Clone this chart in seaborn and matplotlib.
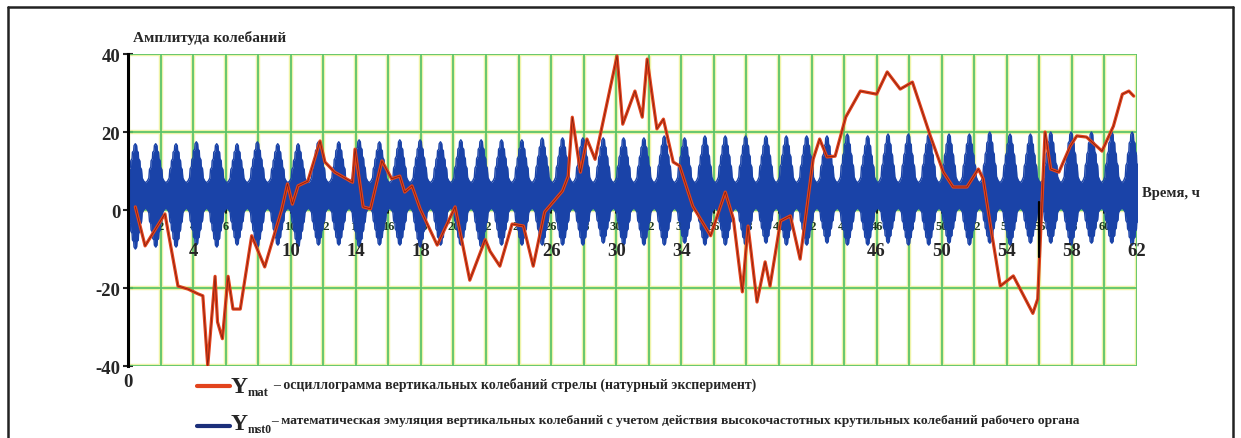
import numpy as np
import pandas as pd
import seaborn as sns
import matplotlib.pyplot as plt
from matplotlib.lines import Line2D

# red curve: field oscillogram
red_t = [0.45, 1.05, 2.27, 2.58, 3.07, 3.7, 4.3, 4.6, 4.9, 5.35, 5.5, 5.8, 6.15, 6.45, 6.9,
         7.6, 8.4, 9.45, 9.8, 10.1, 10.45, 11.05, 11.8, 12.1, 12.7, 13.8, 13.95, 14.45, 14.9,
         15.6, 16.2, 16.7, 17.0, 17.45, 17.95, 19.0, 20.1, 21.0, 21.95, 22.25, 22.85, 23.6,
         24.3, 24.9, 25.6, 26.7, 27.05, 27.3, 27.8, 28.2, 28.7, 30.05, 30.4, 31.15, 31.6,
         31.9, 32.3, 32.5, 32.9, 33.5, 33.9, 34.7, 35.8, 36.7, 37.2, 37.75, 38.1, 38.65,
         39.15, 39.45, 40.1, 40.7, 41.3, 42.1, 42.5, 42.95, 43.45, 44.1, 45.0, 46.0, 46.65,
         47.45, 48.2, 49.3, 50.1, 50.7, 51.55, 52.25, 52.55, 53.0, 53.6, 54.4, 55.6, 55.9,
         56.35, 56.7, 57.2, 57.9, 58.3, 58.9, 59.85, 60.55, 61.1, 61.5, 61.8]
red_y = [0.8, -9.2, -1.0, -8.2, -19.5, -20.3, -21.5, -22.0, -40.0, -17.0, -28.7, -33.0, -17.0,
         -25.4, -25.4, -6.6, -14.6, 0.2, 6.7, 1.5, 6.2, 7.4, 17.7, 12.3, 9.7, 7.1, 15.6, 0.8,
         0.3, 12.6, 8.0, 8.7, 4.6, 6.2, 0.3, -9.0, 0.8, -18.0, -7.6, -10.6, -14.4, -3.6, -4.1,
         -14.4, -0.5, 4.9, 8.7, 23.8, 9.7, 18.2, 13.0, 39.5, 22.0, 30.5, 23.8, 38.7, 26.7,
         20.8, 23.3, 12.3, 11.3, 1.0, -6.6, 4.6, -2.3, -21.0, -4.1, -23.6, -13.3, -19.5, -2.8,
         -1.5, -12.6, 13.0, 18.2, 13.6, 13.8, 23.8, 30.5, 29.7, 35.4, 31.0, 32.8, 19.0, 9.7,
         5.9, 5.9, 10.5, 8.0, -4.1, -19.5, -16.9, -26.5, -22.8, 20.0, 10.5, 9.7, 16.4, 19.0,
         18.7, 15.1, 21.5, 29.7, 30.5, 29.2]

# blue curve: emulated signal, drawn as its envelope (bursts every ~1.25 h)
burst_start = 0.45
burst_period = 1.25
blue_top = [17, 17, 17, 17.5, 17, 17, 17.5, 17, 17, 17.5,
            17.5, 18, 17.5, 18, 18, 17.5, 18, 18, 18, 18,
            18.5, 18.5, 18.5, 18.5, 18.5, 18.5, 19, 18.5, 19, 19,
            19, 19, 19, 19, 19, 19.5, 19, 19.5, 19.5, 19.5,
            19.5, 19.5, 20, 19.5, 19.5, 20, 20, 20, 20, 20]
blue_bot = [-10, -9.5, -9.5, -9, -9.5, -9, -9.5, -9, -9.5, -9,
            -9, -9.5, -9, -9, -9.5, -9, -9, -9.5, -9, -9,
            -9, -9, -9, -8.5, -9, -9, -9, -8.5, -9, -9,
            -9, -8.5, -9, -9, -8.5, -9, -9, -8.5, -9, -9,
            -8.5, -9, -8.5, -9, -8.5, -8.5, -9, -8.5, -8.5, -9]
calm_top = 7.0
calm_bot = 0.5
# stepped "christmas tree" burst profile: offset from burst peak, share of burst height
prof_d = [-0.625, -0.52, -0.42, -0.38, -0.3, -0.28, -0.2, -0.18, -0.1, -0.08, 0.0,
          0.08, 0.1, 0.18, 0.2, 0.28, 0.3, 0.38, 0.42, 0.52]
prof_f = [0, 0.04, 0.12, 0.34, 0.4, 0.56, 0.62, 0.78, 0.82, 0.95, 1.0,
          0.95, 0.82, 0.78, 0.62, 0.56, 0.4, 0.34, 0.12, 0.04]

big_xlabels = [4, 10, 14, 18, 26, 30, 34, 46, 50, 54, 58, 62]
small_xlabels = list(range(2, 62, 2))
yticks = [-40, -20, 0, 20, 40]

RED = '#e2431d'
BLUE = '#1a43a8'
GREEN = '#5cc46a'
W, H = 1241, 439

sns.set_style('white')
plt.rcParams['font.family'] = ['Liberation Serif', 'DejaVu Serif']
plt.rcParams['font.weight'] = 'bold'

fig = plt.figure(figsize=(W / 100, H / 100), dpi=100)
ax = fig.add_axes([128 / W, 1 - 367 / H, (1137 - 128) / W, (367 - 55) / H])

# build blue envelope
env_t, env_hi, env_lo = [], [], []
for k in range(len(blue_top)):
    c = burst_start + burst_period * k
    for d, f in zip(prof_d, prof_f):
        env_t.append(c + d)
        env_hi.append(calm_top + f * (blue_top[k] - calm_top))
        env_lo.append(calm_bot + f * (blue_bot[k] - calm_bot))
blue = pd.DataFrame({'t': env_t, 'hi': env_hi, 'lo': env_lo})

# grid with a light yellow glow
for x in range(0, 63, 2):
    ax.axvline(x, color='#eef3a8', lw=3.2, zorder=0.5)
    ax.axvline(x, color=GREEN, lw=1.3, zorder=0.6)
for y in yticks:
    ax.axhline(y, color='#eef3a8', lw=3.2, zorder=0.5)
    ax.axhline(y, color=GREEN, lw=1.3, zorder=0.6)

# small labels on the zero line (mostly hidden under blue)
for x in small_xlabels:
    ax.plot([x, x], [-0.8, 1.5], color='black', lw=1.2, zorder=0.8)
    ax.text(x, -4, str(x), ha='center', va='center', fontsize=9, color='#1e3a22', zorder=0.8)

ax.fill_between(blue['t'], blue['lo'], blue['hi'], color=BLUE, lw=0, zorder=2)
sns.lineplot(data=blue, x='t', y='hi', color=BLUE, lw=1.0, ax=ax, zorder=2)
sns.lineplot(data=blue, x='t', y='lo', color=BLUE, lw=1.0, ax=ax, zorder=2)

red = pd.DataFrame({'t': red_t, 'y': red_y})
sns.lineplot(data=red, x='t', y='y', color=RED, lw=2.3, ax=ax, zorder=3, sort=False)
sns.lineplot(data=red, x='t', y='y', color='#7a1c0c', lw=0.5, ax=ax, zorder=3.1, sort=False)

ax.plot([56, 56], [2, -12], color='black', lw=1.6, zorder=4)

for x in big_xlabels:
    ax.text(x, -10.5, str(x), ha='center', va='center', fontsize=13.5,
            fontweight='bold', zorder=5)
ax.text(0, -44, '0', ha='center', va='center', fontsize=13.5, fontweight='bold', clip_on=False)
ax.text(62.3, 4.6, 'Время, ч', ha='left', va='center', fontsize=10.5,
        fontweight='bold', clip_on=False)

ax.set_xlim(0, 62)
ax.set_ylim(-40, 40)
ax.set_xticks([])
ax.set_yticks(yticks)
ax.set_yticklabels([str(v) for v in yticks], fontsize=13.5, fontweight='bold')
ax.tick_params(axis='y', direction='inout', length=7, width=1.5, pad=2, left=True)
ax.set_xlabel('')
ax.set_ylabel('')
for s in ['top', 'right', 'bottom']:
    ax.spines[s].set_visible(False)
ax.spines['left'].set_color('black')
ax.spines['left'].set_linewidth(2.2)
ax.spines['left'].set_zorder(6)

fig.text(133 / W, 1 - 38 / H, 'Амплитуда колебаний', fontsize=11, fontweight='bold',
         ha='left', va='center')

# hand-made legend
fig.add_artist(Line2D([197 / W, 230 / W], [1 - 387 / H] * 2, color=RED, lw=3))
fig.add_artist(Line2D([197 / W, 230 / W], [1 - 427 / H] * 2, color='#1c2f7a', lw=3))
fig.text(231 / W, 1 - 388 / H, 'Y', fontsize=17, fontweight='bold', ha='left', va='center')
fig.text(248 / W, 1 - 393 / H, 'mat', fontsize=9, fontweight='bold', ha='left', va='center')
fig.text(273 / W, 1 - 385 / H,
         '– осциллограмма вертикальных колебаний стрелы (натурный эксперимент)',
         fontsize=10, fontweight='bold', ha='left', va='center')
fig.text(231 / W, 1 - 425 / H, 'Y', fontsize=17, fontweight='bold', ha='left', va='center')
fig.text(248 / W, 1 - 430 / H, 'mst0', fontsize=8.5, fontweight='bold', ha='left', va='center')
fig.text(271 / W, 1 - 421 / H,
         '– математическая эмуляция вертикальных колебаний с учетом действия '
         'высокочастотных крутильных колебаний рабочего органа',
         fontsize=9.7, fontweight='bold', ha='left', va='center')

# outer frame
for xs, ys in [([8, 8], [8, H]), ([8, 1233], [8, 8]), ([1233, 1233], [8, H])]:
    fig.add_artist(Line2D([x / W for x in xs], [1 - y / H for y in ys], color='#222222', lw=1.8))

fig.savefig('out.png', dpi=100)
